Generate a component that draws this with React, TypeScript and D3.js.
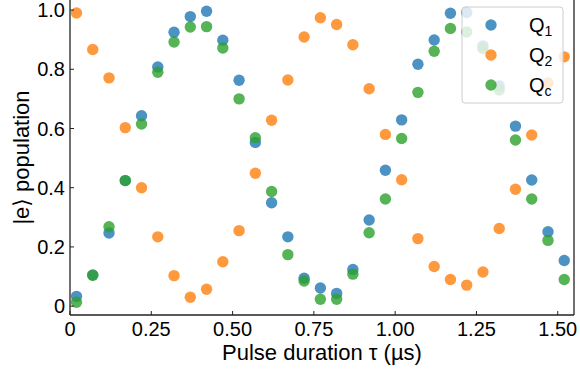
import React from "react";
import * as d3 from "d3";

const width = 580;
const height = 374;
const margin = { top: 0, right: 6, bottom: 59, left: 70 };

// pulse durations (µs)
const tau = [
  0.02, 0.07, 0.12, 0.17, 0.22, 0.27, 0.32, 0.37, 0.42, 0.47, 0.52,
  0.57, 0.62, 0.67, 0.72, 0.77, 0.82, 0.87, 0.92, 0.97, 1.02, 1.07,
  1.12, 1.17, 1.22, 1.27, 1.32, 1.37, 1.42, 1.47, 1.52
];

const q1 = [
  0.033, 0.105, 0.247, 0.424, 0.643, 0.808, 0.925, 0.978, 0.996, 0.898, 0.763,
  0.553, 0.349, 0.234, 0.094, 0.061, 0.043, 0.124, 0.291, 0.459, 0.629, 0.817,
  0.899, 0.989, 0.992, 0.879, 0.744, 0.608, 0.426, 0.251, 0.154
];

const q2 = [
  0.99, 0.867, 0.771, 0.603, 0.4, 0.234, 0.103, 0.03, 0.057, 0.15, 0.255,
  0.449, 0.628, 0.764, 0.909, 0.974, 0.951, 0.883, 0.734, 0.58, 0.427, 0.228,
  0.134, 0.09, 0.071, 0.115, 0.262, 0.395, 0.578, 0.754, 0.842
];

const qc = [
  0.013, 0.104, 0.268, 0.424, 0.615, 0.79, 0.892, 0.943, 0.944, 0.872, 0.7,
  0.569, 0.387, 0.174, 0.085, 0.023, 0.023, 0.108, 0.248, 0.362, 0.566, 0.722,
  0.861, 0.938, 0.926, 0.87, 0.73, 0.561, 0.362, 0.222, 0.09
];

const xTicks = [0, 0.25, 0.5, 0.75, 1.0, 1.25, 1.5];
const xTickLabels = ["0", "0.25", "0.50", "0.75", "1.00", "1.25", "1.50"];
const yTicks = [0, 0.2, 0.4, 0.6, 0.8, 1.0];
const yTickLabels = ["0", "0.2", "0.4", "0.6", "0.8", "1.0"];

const seriesNames = ["1", "2", "c"];
const seriesColors = ["#1f77b4", "#ff7f0e", "#2ca02c"];
const seriesValues = [q1, q2, qc];

const font = "'Liberation Sans', Arial, 'DejaVu Sans', sans-serif";

export default function App() {
  const x = d3.scaleLinear().domain([0, 1.55]).range([margin.left, width - margin.right]);
  const y = d3.scaleLinear().domain([-0.03, 1.034]).range([height - margin.bottom, margin.top]);
  const x0 = margin.left;
  const x1 = width - margin.right;
  const yb = height - margin.bottom;

  const legend = { x: 462, y: 7, w: 101, h: 96 };

  return (
    <svg
      width={width}
      height={height}
      style={{ position: "absolute", left: 0, top: 0, background: "#fff" }}
      fontFamily={font}
    >
      {/* points */}
      {seriesValues.map((vals, si) => (
        <g key={si} fill={seriesColors[si]} fillOpacity={0.8}>
          {vals.map((v, i) => (
            <circle key={i} cx={x(tau[i])} cy={y(v)} r={5.7} />
          ))}
        </g>
      ))}

      {/* spines */}
      <g stroke="#222" strokeWidth={1.3} fill="none">
        <line x1={x0} y1={0} x2={x0} y2={yb} />
        <line x1={x0} y1={yb} x2={x1} y2={yb} />
        <line x1={x1} y1={0} x2={x1} y2={yb} />
      </g>

      {/* x ticks */}
      {xTicks.map((t, i) => (
        <g key={i}>
          <line x1={x(t)} x2={x(t)} y1={yb} y2={yb - 4} stroke="#222" strokeWidth={1} />
          <text x={x(t)} y={336} textAnchor="middle" fontSize={20} fill="#000">
            {xTickLabels[i]}
          </text>
        </g>
      ))}

      {/* y ticks */}
      {yTicks.map((t, i) => (
        <g key={i}>
          <line x1={x0} x2={x0 + 4} y1={y(t)} y2={y(t)} stroke="#222" strokeWidth={1} />
          <text x={65} y={y(t)} dy="0.36em" textAnchor="end" fontSize={20} fill="#000">
            {yTickLabels[i]}
          </text>
        </g>
      ))}

      {/* axis labels */}
      <text x={(x0 + x1) / 2} y={360} textAnchor="middle" fontSize={22} fill="#000">
        Pulse duration τ (µs)
      </text>
      <text
        transform={`translate(29, ${(0 + yb) / 2}) rotate(-90)`}
        textAnchor="middle"
        fontSize={22}
        fill="#000"
      >
        |e⟩ population
      </text>

      {/* legend */}
      <rect
        x={legend.x}
        y={legend.y}
        width={legend.w}
        height={legend.h}
        rx={3}
        fill="#fff"
        fillOpacity={0.8}
        stroke="#ccc"
        strokeWidth={1}
      />
      {seriesNames.map((name, i) => (
        <g key={name}>
          <circle cx={491} cy={25 + i * 30} r={5.7} fill={seriesColors[i]} fillOpacity={0.8} />
          <text x={529} y={32 + i * 30} fontSize={20} fill="#000">
            Q
            <tspan fontSize={14} dy={4}>
              {name}
            </tspan>
          </text>
        </g>
      ))}
    </svg>
  );
}
